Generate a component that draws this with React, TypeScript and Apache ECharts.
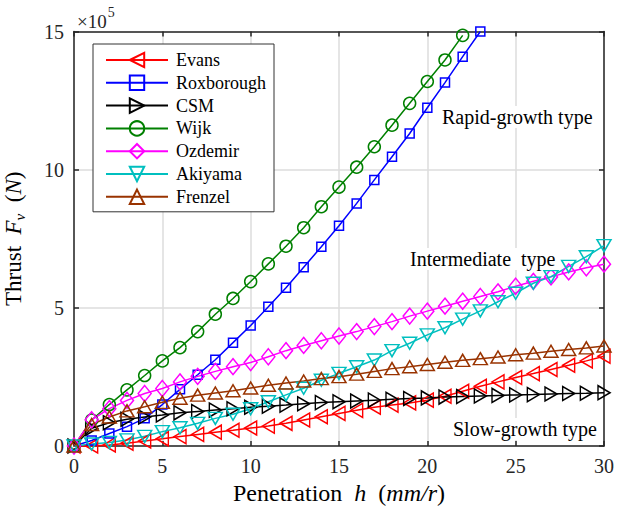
import React, { useEffect, useRef } from "react";
import * as echarts from "echarts";

// Penetration h (mm/r)
const penetration = [0, 1, 2, 3, 4, 5, 6, 7, 8, 9, 10, 11, 12, 13, 14, 15, 16, 17, 18, 19, 20, 21, 22, 23, 24, 25, 26, 27, 28, 29, 30];

// Thrust values (x10^5 N)
const evans = [0, 0.0, 0.04, 0.1, 0.18, 0.26, 0.34, 0.42, 0.5, 0.57, 0.65, 0.72, 0.82, 0.94, 1.06, 1.18, 1.29, 1.4, 1.48, 1.56, 1.66, 1.8, 1.98, 2.16, 2.32, 2.48, 2.62, 2.77, 2.92, 3.08, 3.25];
const roxborough = [0, 0.2, 0.45, 0.7, 1.0, 1.5, 2.05, 2.58, 3.12, 3.74, 4.36, 5.04, 5.73, 6.47, 7.21, 7.97, 8.78, 9.63, 10.47, 11.31, 12.24, 13.15, 14.09, 15.0];
const csm = [0, 0.64, 0.84, 0.97, 1.05, 1.12, 1.2, 1.25, 1.3, 1.35, 1.4, 1.44, 1.48, 1.53, 1.57, 1.6, 1.63, 1.66, 1.69, 1.72, 1.74, 1.77, 1.79, 1.81, 1.83, 1.85, 1.86, 1.88, 1.9, 1.91, 1.93];
const wijk = [0, 0.94, 1.5, 2.03, 2.55, 3.08, 3.56, 4.14, 4.77, 5.34, 5.95, 6.59, 7.23, 7.9, 8.66, 9.37, 10.09, 10.83, 11.61, 12.4, 13.19, 13.97, 14.86];
const ozdemir = [0, 0.95, 1.35, 1.65, 1.9, 2.08, 2.32, 2.52, 2.7, 2.87, 3.02, 3.23, 3.45, 3.64, 3.81, 3.98, 4.14, 4.32, 4.5, 4.7, 4.88, 5.06, 5.24, 5.41, 5.58, 5.78, 5.96, 6.12, 6.3, 6.45, 6.58];
const akiyama = [0, 0.07, 0.13, 0.22, 0.35, 0.52, 0.66, 0.82, 1.0, 1.15, 1.35, 1.6, 1.85, 2.09, 2.38, 2.63, 2.87, 3.11, 3.45, 3.72, 4.02, 4.28, 4.59, 4.89, 5.22, 5.53, 5.89, 6.13, 6.5, 6.85, 7.25];
const frenzel = [0, 0.78, 1.05, 1.27, 1.42, 1.58, 1.73, 1.84, 1.92, 2.0, 2.1, 2.2, 2.28, 2.35, 2.44, 2.51, 2.6, 2.7, 2.8, 2.87, 2.95, 3.03, 3.1, 3.16, 3.22, 3.3, 3.36, 3.43, 3.49, 3.55, 3.62];

const xTicks = { min: 0, max: 30, interval: 5 };
const yTicks = { min: 0, max: 15, interval: 5 };

const annotations = ["Rapid-growth type", "Intermediate  type", "Slow-growth type"];

const SERIF = "Liberation Serif";
const AXIS = "#262626";

function makeSeries(
  name: string,
  values: number[],
  color: string,
  symbol: string,
  size: number | number[],
  rotate: number
) {
  return {
    name,
    type: "line",
    data: values.map((v, i) => [penetration[i], v]),
    symbol,
    symbolSize: size,
    symbolRotate: rotate,
    showSymbol: true,
    showAllSymbol: true,
    clip: false,
    lineStyle: { color, width: 1.5 },
    itemStyle: { color: "rgba(255,255,255,0)", borderColor: color, borderWidth: 1.5 },
    emphasis: { disabled: true },
  };
}

export default function App() {
  const ref = useRef<HTMLDivElement>(null);
  useEffect(() => {
    if (!ref.current) return;
    const chart = echarts.init(ref.current, undefined, { renderer: "svg" });
    const axisLine = { show: true, onZero: false, lineStyle: { color: AXIS, width: 1.5 } };
    const axisTick = { show: true, inside: true, length: 5, lineStyle: { color: AXIS, width: 1.5 } };
    const axisLabel = { fontFamily: SERIF, fontSize: 20, color: AXIS };
    const option: any = {
      animation: false,
      backgroundColor: "#fff",
      textStyle: { fontFamily: SERIF },
      grid: { left: 74, right: 23, top: 31.5, bottom: 62, containLabel: false, outerBoundsMode: "none" },
      legend: {
        orient: "vertical",
        left: 93,
        top: 44,
        padding: [7, 8, 6, 12],
        itemWidth: 62,
        itemHeight: 18,
        itemGap: 4.8,
        backgroundColor: "#fff",
        borderColor: "#333",
        borderWidth: 1,
        selectedMode: false,
        textStyle: { fontFamily: SERIF, fontSize: 18, color: "#000", lineHeight: 18, padding: [0, 0, 0, 3] },
        data: ["Evans", "Roxborough", "CSM", "Wijk", "Ozdemir", "Akiyama", "Frenzel"],
      },
      xAxis: [
        {
          type: "value",
          position: "bottom",
          ...xTicks,
          axisLine,
          axisTick,
          axisLabel: { ...axisLabel, margin: 10 },
          splitLine: { show: true, lineStyle: { color: "#dcdcdc", width: 1.5 } },
          name: "Penetration  {i|h}  ({i|mm/r})",
          nameLocation: "middle",
          nameGap: 35,
          nameTextStyle: {
            fontFamily: SERIF,
            fontSize: 24,
            color: "#000",
            rich: { i: { fontFamily: SERIF, fontSize: 24, fontStyle: "italic", color: "#000" } },
          },
        },
        {
          type: "value",
          position: "top",
          ...xTicks,
          axisLine,
          axisTick,
          axisLabel: { show: false },
          splitLine: { show: false },
        },
      ],
      yAxis: [
        {
          type: "value",
          position: "left",
          ...yTicks,
          axisLine,
          axisTick,
          axisLabel: { ...axisLabel, margin: 10 },
          splitLine: { show: true, lineStyle: { color: "#dcdcdc", width: 1.5 } },
          name: "Thrust  {i|F}{sub|v}  ({i|N})",
          nameLocation: "middle",
          nameGap: 47,
          nameTextStyle: {
            fontFamily: SERIF,
            fontSize: 23,
            color: "#000",
            rich: {
              i: { fontFamily: SERIF, fontSize: 23, fontStyle: "italic", color: "#000" },
              sub: { fontFamily: SERIF, fontSize: 15, fontStyle: "italic", color: "#000", padding: [12, 0, 0, 0] },
            },
          },
        },
        {
          type: "value",
          position: "right",
          ...yTicks,
          axisLine,
          axisTick,
          axisLabel: { show: false },
          splitLine: { show: false },
        },
      ],
      graphic: [
        {
          type: "text",
          x: 77,
          y: 21,
          z: 100,
          style: {
            text: "×10{sup|5}",
            fontFamily: SERIF,
            fontSize: 19,
            fill: AXIS,
            verticalAlign: "middle",
            align: "left",
            rich: { sup: { fontFamily: SERIF, fontSize: 14, fill: AXIS, padding: [0, 0, 18, 1] } },
          },
        },
        {
          type: "text",
          x: 441,
          y: 117,
          z: 100,
          style: { text: annotations[0], fontFamily: SERIF, fontSize: 20, fill: "#000", verticalAlign: "middle", align: "left", backgroundColor: "#fff", padding: [1, 1] },
        },
        {
          type: "text",
          x: 409,
          y: 259,
          z: 100,
          style: { text: annotations[1], fontFamily: SERIF, fontSize: 20, fill: "#000", verticalAlign: "middle", align: "left", backgroundColor: "#fff", padding: [1, 1] },
        },
        {
          type: "text",
          x: 452,
          y: 429,
          z: 100,
          style: { text: annotations[2], fontFamily: SERIF, fontSize: 20, fill: "#000", verticalAlign: "middle", align: "left", backgroundColor: "#fff", padding: [1, 1] },
        },
      ],
      series: [
        makeSeries("Evans", evans, "#ff0000", "triangle", [14, 12], 90),
        makeSeries("Roxborough", roxborough, "#0000ff", "rect", 9, 0),
        makeSeries("CSM", csm, "#000000", "triangle", [14, 12], -90),
        makeSeries("Wijk", wijk, "#008000", "circle", 12, 0),
        makeSeries("Ozdemir", ozdemir, "#ff00ff", "diamond", [13, 16], 0),
        makeSeries("Akiyama", akiyama, "#00bfbf", "triangle", [14, 12], 180),
        makeSeries("Frenzel", frenzel, "#993300", "triangle", [14, 12], 0),
      ],
    };
    chart.setOption(option);
    return () => chart.dispose();
  }, []);
  return (
    <div
      ref={ref}
      style={{ position: "absolute", left: 0, top: 0, width: 627, height: 508, background: "#fff" }}
    />
  );
}
